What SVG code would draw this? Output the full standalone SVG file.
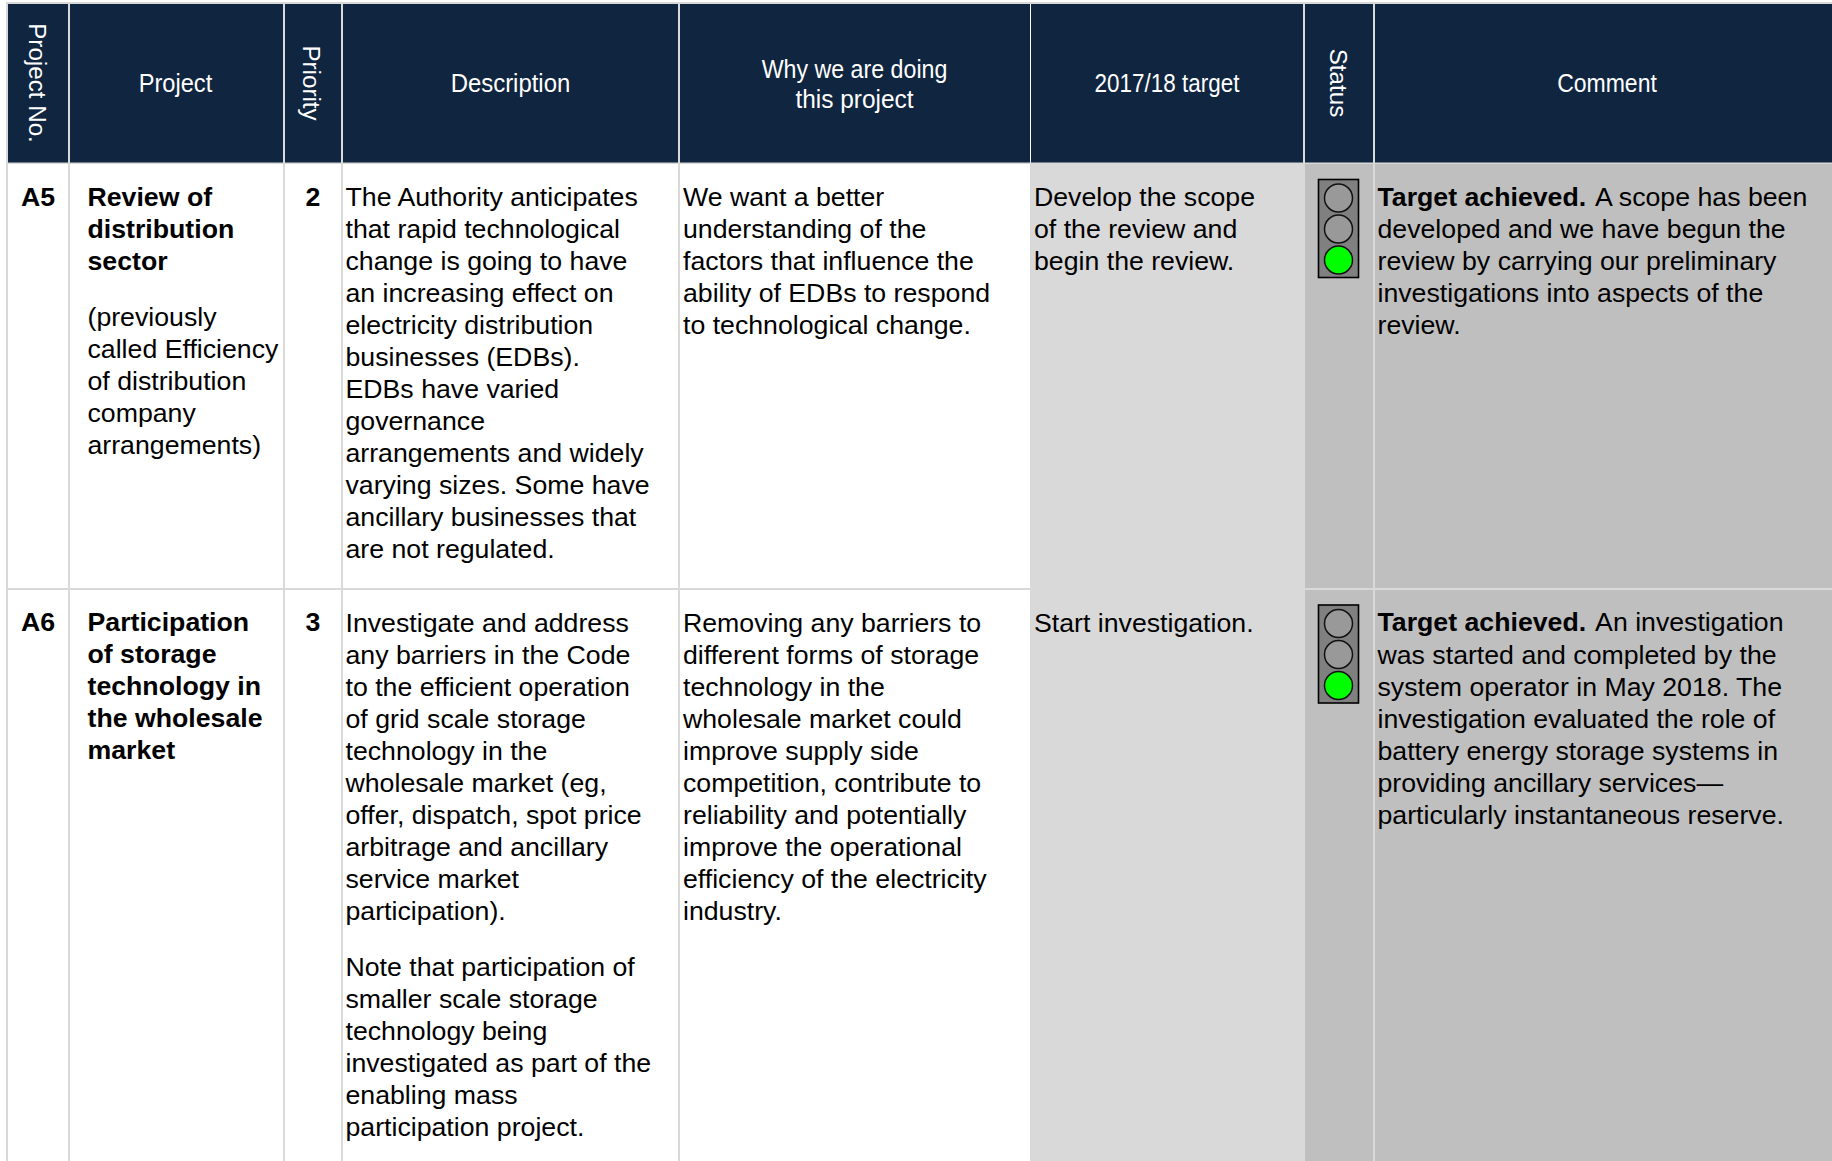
<svg xmlns="http://www.w3.org/2000/svg" width="1832" height="1161" viewBox="0 0 1832 1161">
<defs>
<style>
text{font-family:"Liberation Sans",Arial,sans-serif;font-size:26.7px;fill:#000}
.h{font-size:26.6px;fill:#fff;text-anchor:middle}
.r{font-size:24.2px;fill:#fff;text-anchor:middle}
.b{font-weight:bold}
.g{fill:#d9d9d9}
.lamp{fill:#999;stroke:#111;stroke-width:1.5}
.on{fill:#0f0}
.box{fill:#808080;stroke:#000;stroke-width:1.6}
</style>
<g id="light"><rect class="box" x="0" y="0" width="40" height="98"/><circle class="lamp" cx="20" cy="18.5" r="14"/><circle class="lamp" cx="20" cy="49.5" r="14"/><circle class="lamp on" cx="20" cy="80.5" r="14"/></g>
</defs>
<rect width="1832" height="1161" fill="#fff"/>
<g id="backgrounds">
<rect x="1030" y="162" width="274" height="999" fill="#d9d9d9"/>
<rect x="1304" y="162" width="528" height="999" fill="#bfbfbf"/>
</g>
<g id="grid">
<rect class="g" x="6" y="2" width="1826" height="2"/>
<rect class="g" x="6" y="2" width="2" height="1159"/>
<rect class="g" x="68" y="2" width="2" height="1159"/>
<rect class="g" x="283" y="2" width="2" height="1159"/>
<rect class="g" x="341" y="2" width="2" height="1159"/>
<rect class="g" x="678" y="2" width="2" height="1159"/>
<rect class="g" x="6" y="588" width="1024" height="2"/>
<rect class="g" x="1303" y="2" width="2" height="1159"/>
<rect class="g" x="1373" y="2" width="2" height="1159"/>
<rect class="g" x="1304" y="588" width="528" height="2"/>
<rect class="g" x="6" y="162" width="1826" height="2"/>
</g>
<g id="header">
<rect x="8" y="4" width="60" height="158.500" fill="#10253f"/>
<rect x="70" y="4" width="213" height="158.500" fill="#10253f"/>
<rect x="285" y="4" width="56" height="158.500" fill="#10253f"/>
<rect x="343" y="4" width="335" height="158.500" fill="#10253f"/>
<rect x="680" y="4" width="350" height="158.500" fill="#10253f"/>
<rect x="1031" y="4" width="272" height="158.500" fill="#10253f"/>
<rect x="1305" y="4" width="68" height="158.500" fill="#10253f"/>
<rect x="1375" y="4" width="457" height="158.500" fill="#10253f"/>
<text class="r" transform="translate(29 83) rotate(90)">Project No.</text>
<text class="h" x="175.500" y="92" textLength="73.500" lengthAdjust="spacingAndGlyphs">Project</text>
<text class="r" transform="translate(303 83) rotate(90)">Priority</text>
<text class="h" x="510.500" y="92" textLength="119.600" lengthAdjust="spacingAndGlyphs">Description</text>
<text class="h" x="854.500" y="78" textLength="185.700" lengthAdjust="spacingAndGlyphs">Why we are doing</text>
<text class="h" x="854.500" y="108" textLength="118" lengthAdjust="spacingAndGlyphs">this project</text>
<text class="h" x="1167" y="92" textLength="144.800" lengthAdjust="spacingAndGlyphs">2017/18 target</text>
<text class="r" transform="translate(1330 83) rotate(90)">Status</text>
<text class="h" x="1607" y="92" textLength="99.700" lengthAdjust="spacingAndGlyphs">Comment</text>
</g>
<g id="rowA5">
<text class="b" x="21" y="206">A5</text>
<text class="b" x="87.500" y="206">Review of</text>
<text class="b" x="87.500" y="238">distribution</text>
<text class="b" x="87.500" y="270">sector</text>
<text x="87.500" y="326">(previously</text>
<text x="87.500" y="358">called Efficiency</text>
<text x="87.500" y="390">of distribution</text>
<text x="87.500" y="422">company</text>
<text x="87.500" y="454">arrangements)</text>
<text class="b" x="313" y="206" text-anchor="middle">2</text>
<text x="345.500" y="206">The Authority anticipates</text>
<text x="345.500" y="238">that rapid technological</text>
<text x="345.500" y="270">change is going to have</text>
<text x="345.500" y="302">an increasing effect on</text>
<text x="345.500" y="334">electricity distribution</text>
<text x="345.500" y="366">businesses (EDBs).</text>
<text x="345.500" y="398">EDBs have varied</text>
<text x="345.500" y="430">governance</text>
<text x="345.500" y="462">arrangements and widely</text>
<text x="345.500" y="494">varying sizes. Some have</text>
<text x="345.500" y="526">ancillary businesses that</text>
<text x="345.500" y="558">are not regulated.</text>
<text x="683" y="206">We want a better</text>
<text x="683" y="238">understanding of the</text>
<text x="683" y="270">factors that influence the</text>
<text x="683" y="302">ability of EDBs to respond</text>
<text x="683" y="334">to technological change.</text>
<text x="1034" y="206">Develop the scope</text>
<text x="1034" y="238">of the review and</text>
<text x="1034" y="270">begin the review.</text>
<use href="#light" x="1318.500" y="179.500"/>
<text x="1377.500" y="206"><tspan class="b">Target achieved.</tspan><tspan dx="3"> A scope has been</tspan></text>
<text x="1377.500" y="238">developed and we have begun the</text>
<text x="1377.500" y="270">review by carrying our preliminary</text>
<text x="1377.500" y="302">investigations into aspects of the</text>
<text x="1377.500" y="334">review.</text>
</g>
<g id="rowA6">
<text class="b" x="21" y="631">A6</text>
<text class="b" x="87.500" y="631">Participation</text>
<text class="b" x="87.500" y="663">of storage</text>
<text class="b" x="87.500" y="695">technology in</text>
<text class="b" x="87.500" y="727">the wholesale</text>
<text class="b" x="87.500" y="758.500">market</text>
<text class="b" x="313" y="631" text-anchor="middle">3</text>
<text x="345.500" y="632">Investigate and address</text>
<text x="345.500" y="664">any barriers in the Code</text>
<text x="345.500" y="696">to the efficient operation</text>
<text x="345.500" y="728">of grid scale storage</text>
<text x="345.500" y="760">technology in the</text>
<text x="345.500" y="792">wholesale market (eg,</text>
<text x="345.500" y="824">offer, dispatch, spot price</text>
<text x="345.500" y="856">arbitrage and ancillary</text>
<text x="345.500" y="888">service market</text>
<text x="345.500" y="920">participation).</text>
<text x="345.500" y="976">Note that participation of</text>
<text x="345.500" y="1008">smaller scale storage</text>
<text x="345.500" y="1040">technology being</text>
<text x="345.500" y="1072">investigated as part of the</text>
<text x="345.500" y="1104">enabling mass</text>
<text x="345.500" y="1136">participation project.</text>
<text x="683" y="632">Removing any barriers to</text>
<text x="683" y="664">different forms of storage</text>
<text x="683" y="696">technology in the</text>
<text x="683" y="728">wholesale market could</text>
<text x="683" y="760">improve supply side</text>
<text x="683" y="792">competition, contribute to</text>
<text x="683" y="824">reliability and potentially</text>
<text x="683" y="856">improve the operational</text>
<text x="683" y="888">efficiency of the electricity</text>
<text x="683" y="920">industry.</text>
<text x="1034" y="632">Start investigation.</text>
<use href="#light" x="1318.500" y="605"/>
<text x="1377.500" y="631"><tspan class="b">Target achieved.</tspan><tspan dx="3"> An investigation</tspan></text>
<text x="1377.500" y="664">was started and completed by the</text>
<text x="1377.500" y="696">system operator in May 2018. The</text>
<text x="1377.500" y="728">investigation evaluated the role of</text>
<text x="1377.500" y="760">battery energy storage systems in</text>
<text x="1377.500" y="792">providing ancillary services—</text>
<text x="1377.500" y="824">particularly instantaneous reserve.</text>
</g>
</svg>
